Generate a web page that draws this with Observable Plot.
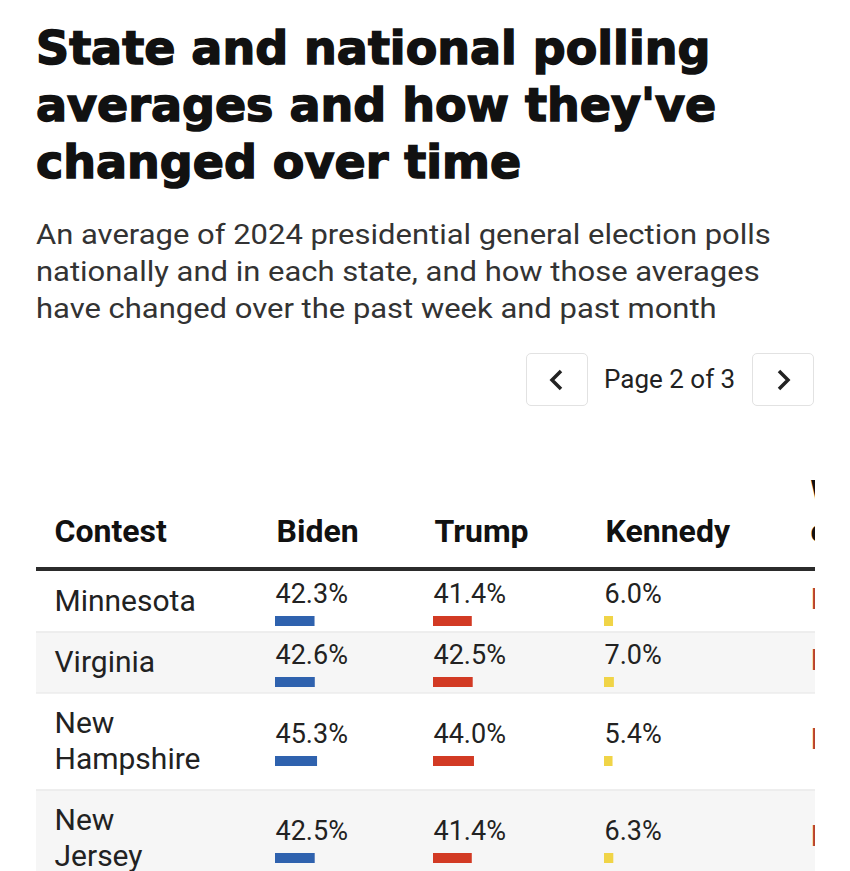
<!DOCTYPE html>
<html>
<head>
<meta charset="utf-8">
<script src="https://cdn.jsdelivr.net/npm/d3@7"></script>
<script src="https://cdn.jsdelivr.net/npm/@observablehq/plot@0.6"></script>
<style>
  html, body { margin: 0; padding: 0; background: #fff; }
  body { width: 850px; height: 871px; position: relative; overflow: hidden; font-family: Roboto, "Noto Sans", sans-serif; }
  #title { position: absolute; left: 36px; top: 20px; width: 760px; font-family: "DejaVu Sans", sans-serif; font-weight: 700; font-size: 46px; line-height: 57px; color: #111; margin: 0; -webkit-text-stroke: 1.5px #111; }
  #subtitle { position: absolute; left: 36px; top: 217px; width: 660px; font-size: 27px; line-height: 37px; color: #333; margin: 0; transform: scaleX(1.147); transform-origin: 0 0; }
  .btn { position: absolute; top: 353px; width: 62px; height: 53px; box-sizing: border-box; border: 1px solid #e2e2e2; border-radius: 5px; background: #fff; display: flex; align-items: center; justify-content: center; }
  #page { position: absolute; left: 604px; top: 362px; font-size: 26px; line-height: 34px; color: #222; }
  #chart { position: absolute; left: 0; top: 440px; width: 815px; height: 431px; overflow: hidden; }
  #chart svg { max-width: none; }
</style>
</head>
<body>
<h1 id="title">State and national polling averages and how they've changed over time</h1>
<p id="subtitle">An average of 2024 presidential general election polls nationally and in each state, and how those averages have changed over the past week and past month</p>
<div class="btn" style="left:526px"><svg width="20" height="24" viewBox="0 0 20 24"><polyline points="14,3 5,12 14,21" fill="none" stroke="#222" stroke-width="3.5"/></svg></div>
<div id="page">Page 2 of 3</div>
<div class="btn" style="left:752px"><svg width="20" height="24" viewBox="0 0 20 24"><polyline points="6,3 15,12 6,21" fill="none" stroke="#222" stroke-width="3.5"/></svg></div>
<div id="chart"></div>
<script>
// ---- data ----
const headers = ["Contest", "Biden", "Trump", "Kennedy", "Week\nchange"];
const contests = ["Minnesota", "Virginia", "New Hampshire", "New Jersey"];
const biden = [42.3, 42.6, 45.3, 42.5];
const trump = [41.4, 42.5, 44.0, 41.4];
const kennedy = [6.0, 7.0, 5.4, 6.3];
const weekChange = ["R", "R", "R", "R"];
const candidates = ["Biden", "Trump", "Kennedy"];
const candidateColors = ["#2f62ae", "#d23a24", "#f0d447"];

// ---- layout ----
const colX = [54, 276, 434, 605, 810];
const tableLeft = 36, tableRight = 815;
const headerBaseline = 101, ruleY = 128.5, rowStart = 130.5;
const lineStep = 36, rowPad = 25;
const barLen = d3.scaleLinear([0, 50], [4, 46]);

const series = [biden, trump, kennedy];
let yCursor = rowStart;
const rows = contests.map((c, i) => {
  const label = c.split(" ").join("\n");
  const n = label.split("\n").length;
  const h = rowPad + lineStep * n;
  const r = {i, label, y1: yCursor, y2: yCursor + h, center: yCursor + h / 2, labelY: yCursor + h / 2 - 2.5, week: weekChange[i]};
  yCursor += h;
  return r;
});
const cells = rows.flatMap(r => candidates.map((cand, j) => {
  const v = series[j][r.i];
  const x0 = colX[j + 1] - 1;
  const base = r.center + 1;
  return {text: v.toFixed(1) + "%", x0, x1: x0 + barLen(v), base, b1: base + 14, b2: base + 24, color: candidateColors[j]};
}));

const chart = Plot.plot({
  width: 850,
  height: 431,
  margin: 0,
  x: {type: "identity", axis: null},
  y: {type: "identity", axis: null},
  color: {type: "identity"},
  style: {fontFamily: "Roboto, sans-serif", background: "#fff", maxWidth: "none"},
  marks: [
    Plot.rect(rows.filter(r => r.i % 2 === 1), {x1: tableLeft, x2: tableRight, y1: "y1", y2: "y2", fill: "#f6f6f6"}),
    Plot.ruleY(rows.slice(0, -1), {y: "y2", x1: tableLeft, x2: tableRight, stroke: "#e3e3e3", strokeWidth: 1}),
    Plot.ruleY([ruleY], {x1: tableLeft, x2: tableRight, stroke: "#2b2b2b", strokeWidth: 4}),
    Plot.text(headers, {ariaLabel: "headers", x: (d, i) => colX[i], y: headerBaseline, text: d => d, textAnchor: "start", lineAnchor: "bottom", lineHeight: 1.22, fontSize: 32, fontWeight: 700, fill: "#111"}),
    Plot.text(rows, {ariaLabel: "contests", x: colX[0], y: "labelY", text: "label", textAnchor: "start", lineAnchor: "middle", lineHeight: 1.2, fontSize: 30, fill: "#222"}),
    Plot.text(rows, {ariaLabel: "week", x: colX[4], y: "labelY", text: "week", textAnchor: "start", lineAnchor: "middle", fontSize: 30, fill: "#b5442e"}),
    Plot.text(cells, {ariaLabel: "values", x: "x0", y: "base", text: "text", textAnchor: "start", lineAnchor: "bottom", fontSize: 27, fill: "#222"}),
    Plot.rect(cells, {x1: "x0", x2: "x1", y1: "b1", y2: "b2", fill: "color"})
  ]
});
document.getElementById("chart").appendChild(chart);
// horizontal stretch of text glyphs to match reference proportions
const stretch = {headers: 1.065, values: 1.14, contests: 1.02};
for (const [label, s] of Object.entries(stretch)) {
  chart.querySelectorAll(`g[aria-label='${label}'] text`).forEach(t => {
    const tr = t.getAttribute("transform") || "";
    t.setAttribute("transform", `${tr} scale(${s},1)`);
  });
}
</script>
</body>
</html>
